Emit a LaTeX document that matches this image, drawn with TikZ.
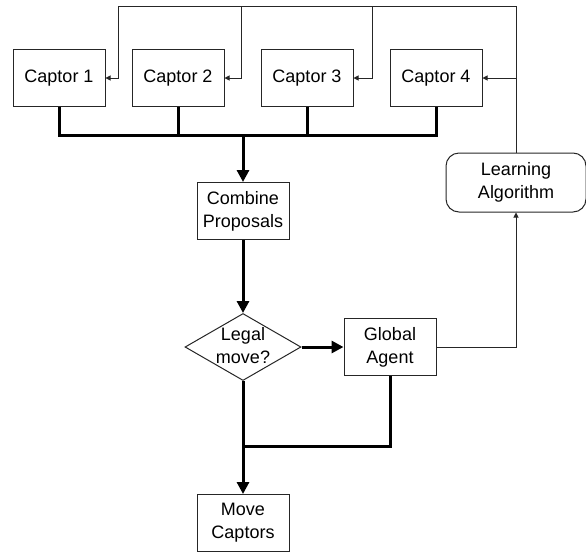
\documentclass[tikz,border=0pt]{standalone}
\usepackage{fontspec}
\setmainfont{Liberation Sans}
\usetikzlibrary{arrows.meta,shapes.geometric}
\begin{document}
\begin{tikzpicture}[x=1pt,y=-1pt,
  boxnode/.style={draw=black!85,line width=1pt,minimum width=92pt,minimum height=57pt,inner sep=0pt,align=center,font=\fontsize{18}{23}\selectfont},
  roundnode/.style={boxnode,rounded corners=13pt,minimum width=140pt,minimum height=59pt},
  dianode/.style={draw=black!85,line width=1pt,diamond,minimum width=116pt,minimum height=67pt,inner sep=0pt},
  txtnode/.style={inner sep=0pt,align=center,font=\fontsize{18}{23}\selectfont},
  thinline/.style={draw=black!85,line width=1pt},
  thinarrow/.style={thinline,-{Triangle[width=5pt,length=5pt]}},
  thickline/.style={draw=black,line width=3pt},
  thickarrow/.style={thickline,-{Triangle[width=12pt,length=12pt]}}]
\useasboundingbox (0,0) rectangle (586,552);
\node[boxnode] (c1) at (59,78) {Captor 1};
\node[boxnode] (c2) at (178,78) {Captor 2};
\node[boxnode] (c3) at (307,78) {Captor 3};
\node[boxnode] (c4) at (436,78) {Captor 4};
\node[boxnode] (comb) at (243,211) {Combine\\Proposals};
\node[dianode] (legal) at (243,347) {};
\node[txtnode] (legaltxt) at (243,346) {Legal\\move?};
\node[boxnode] (glob) at (390,347) {Global\\Agent};
\node[boxnode] (move) at (243,523) {Move\\Captors};
\node[roundnode] (learn) at (516,182.5) {Learning\\Algorithm};
\coordinate (t1) at (118,6);
\coordinate (t2) at (241,6);
\coordinate (t3) at (372,6);
\coordinate (bus) at (243,135);
\coordinate (join) at (243,446);
% feedback lines
\draw[thinarrow] (learn.north) |- (t1) |- (c1.east);
\draw[thinarrow] (t2) |- (c2.east);
\draw[thinarrow] (t3) |- (c3.east);
\draw[thinarrow] (learn.north |- c4.east) -- (c4.east);
\draw[thinarrow] (glob.east) -| (learn.south);
% bus
\draw[thickline] (c1.south) |- (c4.south |- bus) -- (c4.south);
\draw[thickline] (c2.south) -- (c2.south |- bus);
\draw[thickline] (c3.south) -- (c3.south |- bus);
\draw[thickarrow] (bus) -- (comb.north);
\draw[thickarrow] (comb.south) -- (legal.north);
\draw[thickarrow] (legal.east) -- (glob.west);
\draw[thickarrow] (legal.south) -- (move.north);
\draw[thickline] (glob.south) |- (join);
\end{tikzpicture}
\end{document}
